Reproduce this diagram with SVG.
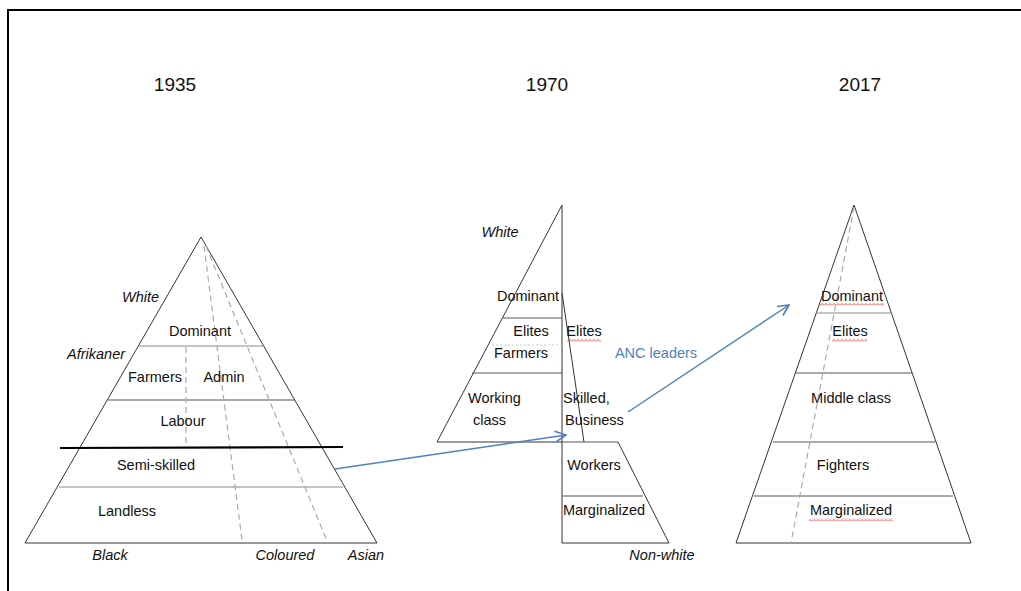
<svg xmlns="http://www.w3.org/2000/svg" width="1021" height="591" viewBox="0 0 1021 591">
<defs>
<style>
text{font-family:"Liberation Sans",Arial,sans-serif;font-size:14.5px;fill:#111}
.it{font-style:italic}
.yr{font-size:19px}
.mid{text-anchor:middle}
.blue{fill:#4f81bd}
.edge{fill:none;stroke:#333;stroke-width:1}
.band{stroke:#555;stroke-width:1}
.gband{stroke:#888;stroke-width:1}
.dash{stroke:#aaa;stroke-width:1.2;stroke-dasharray:6,4;fill:none}
.arrow{stroke:#4f81bd;stroke-width:1.5;fill:none;marker-end:url(#open)}
</style>
<marker id="open" viewBox="0 0 12 12" refX="11" refY="6" markerWidth="13" markerHeight="13" markerUnits="userSpaceOnUse" orient="auto">
<path d="M1,1 L11,6 L1,11" fill="none" stroke="#4f81bd" stroke-width="1.5"/>
</marker>
<pattern id="sq" patternUnits="userSpaceOnUse" width="4" height="3">
<path d="M0,2.5 L2,0.5 L4,2.5" fill="none" stroke="#e02020" stroke-width="0.8"/>
</pattern>
</defs>
<rect width="1021" height="591" fill="#fff"/>
<path d="M8,591 L8,10 L1021,10" fill="none" stroke="#000" stroke-width="2"/>

<g id="year-labels">
<text class="yr mid" x="175" y="91">1935</text>
<text class="yr mid" x="547" y="91">1970</text>
<text class="yr mid" x="860" y="91">2017</text>
</g>

<g id="pyramid-1935">
<polygon class="edge" points="201,237 25,543 377,543"/>
<line class="gband" x1="139" y1="346" x2="264" y2="346"/>
<line class="band" x1="108" y1="400" x2="295" y2="400"/>
<line class="gband" x1="59" y1="487" x2="343" y2="487"/>
<line class="dash" x1="186" y1="347" x2="186" y2="447"/>
<line class="dash" x1="204" y1="246" x2="242" y2="540"/>
<line class="dash" x1="206" y1="246" x2="327" y2="541"/>
<line x1="60" y1="448" x2="343" y2="447" stroke="#000" stroke-width="2.2"/>
<text class="it" x="122" y="302">White</text>
<text class="mid" x="200" y="336">Dominant</text>
<text class="it" x="67" y="359">Afrikaner</text>
<text class="mid" x="155" y="382">Farmers</text>
<text class="mid" x="224" y="382">Admin</text>
<text class="mid" x="183" y="426">Labour</text>
<text class="mid" x="156" y="470">Semi-skilled</text>
<text class="mid" x="127" y="516">Landless</text>
<text class="it mid" x="110" y="560">Black</text>
<text class="it mid" x="285" y="560">Coloured</text>
<text class="it mid" x="366" y="560">Asian</text>
</g>

<g id="pyramid-1970">
<polygon class="edge" points="562,205 437,442 562,442"/>
<line class="band" x1="562" y1="442" x2="618" y2="442"/>
<line class="edge" x1="562" y1="442" x2="562" y2="543"/>
<polyline class="edge" points="618,442 669,543 562,543"/>
<line class="band" x1="562" y1="496" x2="643" y2="496"/>
<line class="edge" x1="562" y1="293" x2="584" y2="442"/>
<line class="band" x1="503" y1="318" x2="562" y2="318"/>
<line class="band" x1="472" y1="373" x2="562" y2="373"/>
<line x1="492" y1="345" x2="562" y2="345" stroke="#ccc" stroke-width="1" stroke-dasharray="2,2"/>
<text class="it mid" x="500" y="237">White</text>
<text class="mid" x="528" y="301">Dominant</text>
<text class="mid" x="531" y="336">Elites</text>
<text class="mid" x="584" y="336">Elites</text>
<text class="mid" x="521" y="358">Farmers</text>
<text x="468" y="403">Working</text>
<text x="473" y="425">class</text>
<text x="563" y="403">Skilled,</text>
<text x="565" y="425">Business</text>
<text class="mid" x="594" y="470">Workers</text>
<text class="mid" x="604" y="515">Marginalized</text>
<text class="it mid" x="662" y="560">Non-white</text>
</g>

<g id="pyramid-2017">
<polygon class="edge" points="854,205 736,543 971,543"/>
<line class="gband" x1="816" y1="313" x2="892" y2="313"/>
<line class="band" x1="796" y1="373" x2="912" y2="373"/>
<line class="band" x1="773" y1="442" x2="935" y2="442"/>
<line class="band" x1="754" y1="496" x2="953" y2="496"/>
<line class="dash" x1="854" y1="207" x2="791" y2="543"/>
<text class="mid" x="852" y="301">Dominant</text>
<text class="mid" x="850" y="336">Elites</text>
<text class="mid" x="851" y="403">Middle class</text>
<text class="mid" x="843" y="470">Fighters</text>
<text class="mid" x="851" y="515">Marginalized</text>
</g>

<g id="spellcheck-marks">
<rect x="567" y="339" width="34" height="3" fill="url(#sq)"/>
<rect x="820" y="303" width="64" height="3" fill="url(#sq)"/>
<rect x="832" y="339" width="35" height="3" fill="url(#sq)"/>
<rect x="809" y="518" width="84" height="3" fill="url(#sq)"/>
</g>

<g id="connectors">
<line class="arrow" x1="335" y1="469" x2="566" y2="435"/>
<line class="arrow" x1="628" y1="412" x2="789" y2="305"/>
<text class="blue mid" x="656" y="358">ANC leaders</text>
</g>
</svg>
